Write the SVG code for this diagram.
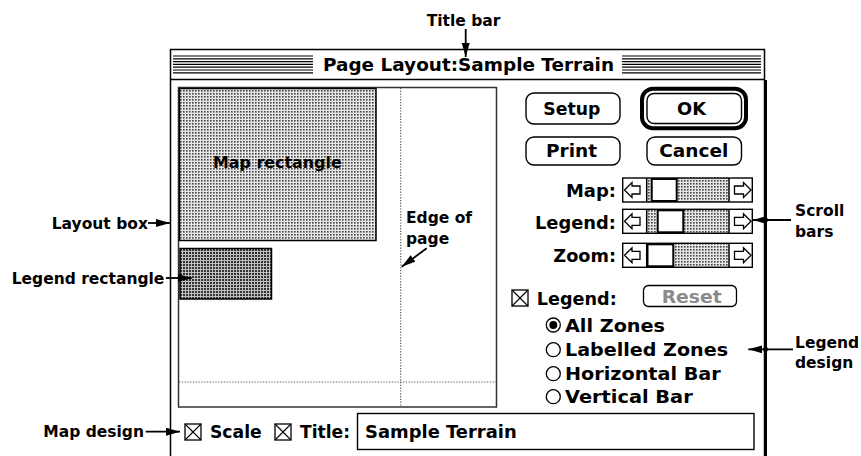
<svg xmlns="http://www.w3.org/2000/svg" width="861" height="456" viewBox="0 0 861 456">
<style>
.ann{font-family:"DejaVu Sans",sans-serif;font-weight:bold;font-size:15.5px;fill:#000}
.ui{font-family:"DejaVu Sans",sans-serif;font-weight:bold;font-size:17px;fill:#000}
.ln{stroke:#000;stroke-width:1.5;fill:none}
.btn{fill:#fff;stroke:#000;stroke-width:1.4}
.dot{stroke:#555;stroke-width:1.2;stroke-dasharray:1.2 1.6;fill:none}
.arr{stroke:#000;stroke-width:1.8;fill:none;marker-end:url(#ah)}
</style>
<defs>
<marker id="ah" markerUnits="userSpaceOnUse" markerWidth="16" markerHeight="10" refX="14" refY="4" orient="auto">
<path d="M0,0 L14,4 L0,8 z" fill="#000"/>
</marker>
<pattern id="lt" width="3" height="3" patternUnits="userSpaceOnUse">
<rect width="3" height="3" fill="#e6e6e6"/><rect width="1.6" height="1.6" fill="#444"/>
</pattern>
<pattern id="dk" width="3" height="3" patternUnits="userSpaceOnUse">
<rect width="3" height="3" fill="#c0c0c0"/><rect width="2" height="2" fill="#333"/>
</pattern>
</defs>
<rect width="861" height="456" fill="#fff"/>

<g id="window">
<rect x="170.5" y="49.5" width="594" height="420" fill="#fff" stroke="#000" stroke-width="1.5"/>
<line x1="765.5" y1="80" x2="765.5" y2="456" stroke="#000" stroke-width="3"/>
<line x1="170" y1="79.5" x2="765" y2="79.5" stroke="#000" stroke-width="1.5"/>
</g>

<g id="title-bar">
<g stroke="#000" stroke-width="1.2">
<line x1="173" y1="56" x2="313" y2="56"/><line x1="173" y1="58.8" x2="313" y2="58.8"/>
<line x1="173" y1="61.6" x2="313" y2="61.6"/><line x1="173" y1="64.4" x2="313" y2="64.4"/>
<line x1="173" y1="67.2" x2="313" y2="67.2"/><line x1="173" y1="70" x2="313" y2="70"/>
<line x1="173" y1="72.8" x2="313" y2="72.8"/>
<line x1="622" y1="56" x2="761" y2="56"/><line x1="622" y1="58.8" x2="761" y2="58.8"/>
<line x1="622" y1="61.6" x2="761" y2="61.6"/><line x1="622" y1="64.4" x2="761" y2="64.4"/>
<line x1="622" y1="67.2" x2="761" y2="67.2"/><line x1="622" y1="70" x2="761" y2="70"/>
<line x1="622" y1="72.8" x2="761" y2="72.8"/>
</g>
<text class="ui" x="323" y="71" font-size="17.5" textLength="291" lengthAdjust="spacingAndGlyphs">Page Layout:Sample Terrain</text>
</g>

<g id="layout-box">
<rect x="178.5" y="87.5" width="318" height="319.5" fill="#fff" stroke="#333" stroke-width="1.5"/>
<line class="dot" x1="400.7" y1="88" x2="400.7" y2="406"/>
<line class="dot" x1="179" y1="382" x2="496" y2="382"/>
</g>

<g id="map-rectangle">
<rect x="179.5" y="88.5" width="196.5" height="152" fill="url(#lt)" stroke="#000" stroke-width="1.5"/>
<text class="ann" x="213" y="168" textLength="128.7" lengthAdjust="spacingAndGlyphs">Map rectangle</text>
</g>

<g id="legend-rectangle">
<rect x="180" y="248.5" width="91.5" height="50.5" fill="url(#dk)" stroke="#000" stroke-width="1.5"/>
</g>

<g id="edge-of-page-label">
<text class="ann" x="406" y="223">Edge of</text>
<text class="ann" x="406" y="244">page</text>
</g>

<g id="btn-setup">
<rect class="btn" x="526" y="93" width="94" height="31" rx="8"/>
<text class="ui" x="543.3" y="115" textLength="57" lengthAdjust="spacingAndGlyphs">Setup</text>
</g>
<g id="btn-ok">
<rect x="642" y="88.7" width="104" height="39.5" rx="11" fill="#fff" stroke="#000" stroke-width="4"/>
<rect class="btn" x="647" y="93.5" width="94.5" height="30" rx="7"/>
<text class="ui" x="677" y="115" textLength="29" lengthAdjust="spacingAndGlyphs">OK</text>
</g>
<g id="btn-print">
<rect class="btn" x="526" y="137" width="94" height="28" rx="8"/>
<text class="ui" x="546" y="157.3" textLength="51" lengthAdjust="spacingAndGlyphs">Print</text>
</g>
<g id="btn-cancel">
<rect class="btn" x="647" y="137" width="94.5" height="28" rx="8"/>
<text class="ui" x="659.3" y="157.3" textLength="69" lengthAdjust="spacingAndGlyphs">Cancel</text>
</g>

<g id="scroll-map">
<text class="ui" x="566" y="196.5" textLength="50" lengthAdjust="spacingAndGlyphs">Map:</text>
<rect x="646.7" y="178" width="82.3" height="24" fill="url(#lt)"/>
<rect x="622.7" y="178" width="129.6" height="24" fill="none" stroke="#000" stroke-width="1.4"/>
<line class="ln" x1="646.7" y1="178" x2="646.7" y2="202"/><line class="ln" x1="729" y1="178" x2="729" y2="202"/>
<rect x="651.7" y="179" width="25" height="22" fill="#fff" stroke="#000" stroke-width="2"/>
<polygon points="624.5,190 632,182.5 632,186 640,186 640,194 632,194 632,197.5" fill="#fff" stroke="#000" stroke-width="1.3"/>
<polygon points="751,190 743.5,182.5 743.5,186 734.5,186 734.5,194 743.5,194 743.5,197.5" fill="#fff" stroke="#000" stroke-width="1.3"/>
</g>
<g id="scroll-legend">
<text class="ui" x="535" y="228.5" textLength="81" lengthAdjust="spacingAndGlyphs">Legend:</text>
<rect x="646.7" y="209.3" width="82.3" height="24" fill="url(#lt)"/>
<rect x="622.7" y="209.3" width="129.6" height="24" fill="none" stroke="#000" stroke-width="1.4"/>
<line class="ln" x1="646.7" y1="209.3" x2="646.7" y2="233.3"/><line class="ln" x1="729" y1="209.3" x2="729" y2="233.3"/>
<rect x="657.7" y="210.3" width="25.6" height="22" fill="#fff" stroke="#000" stroke-width="2"/>
<polygon points="624.5,221.3 632,213.8 632,217.3 640,217.3 640,225.3 632,225.3 632,228.8" fill="#fff" stroke="#000" stroke-width="1.3"/>
<polygon points="751,221.3 743.5,213.8 743.5,217.3 734.5,217.3 734.5,225.3 743.5,225.3 743.5,228.8" fill="#fff" stroke="#000" stroke-width="1.3"/>
</g>
<g id="scroll-zoom">
<text class="ui" x="553.3" y="261.5" textLength="62.7" lengthAdjust="spacingAndGlyphs">Zoom:</text>
<rect x="646.7" y="243.3" width="82.3" height="24" fill="url(#lt)"/>
<rect x="622.7" y="243.3" width="129.6" height="24" fill="none" stroke="#000" stroke-width="1.4"/>
<line class="ln" x1="646.7" y1="243.3" x2="646.7" y2="267.3"/><line class="ln" x1="729" y1="243.3" x2="729" y2="267.3"/>
<rect x="647.5" y="244.3" width="25.8" height="22" fill="#fff" stroke="#000" stroke-width="2"/>
<polygon points="624.5,255.3 632,247.8 632,251.3 640,251.3 640,259.3 632,259.3 632,262.8" fill="#fff" stroke="#000" stroke-width="1.3"/>
<polygon points="751,255.3 743.5,247.8 743.5,251.3 734.5,251.3 734.5,259.3 743.5,259.3 743.5,262.8" fill="#fff" stroke="#000" stroke-width="1.3"/>
</g>

<g id="legend-controls">
<rect x="512" y="290" width="16" height="16" fill="#fff" stroke="#000" stroke-width="1.3"/>
<path d="M512,290 L528,306 M528,290 L512,306" stroke="#000" stroke-width="1.1"/>
<text class="ui" x="536.7" y="304.5" textLength="80" lengthAdjust="spacingAndGlyphs">Legend:</text>
<rect x="643.5" y="285.5" width="93" height="21" rx="5" fill="#fff" stroke="#000" stroke-width="1.3"/>
<text class="ui" x="661.7" y="302.5" style="fill:#8a8a8a" textLength="60" lengthAdjust="spacingAndGlyphs">Reset</text>
<circle cx="553.3" cy="325" r="7" fill="#fff" stroke="#000" stroke-width="1.3"/>
<circle cx="553.3" cy="325" r="4" fill="#000"/>
<text class="ui" x="565" y="331.5" textLength="100" lengthAdjust="spacingAndGlyphs">All Zones</text>
<circle cx="553.3" cy="349.7" r="7" fill="#fff" stroke="#000" stroke-width="1.3"/>
<text class="ui" x="565" y="355.8" textLength="163" lengthAdjust="spacingAndGlyphs">Labelled Zones</text>
<circle cx="553.3" cy="373.7" r="7" fill="#fff" stroke="#000" stroke-width="1.3"/>
<text class="ui" x="565" y="379.7" textLength="155.7" lengthAdjust="spacingAndGlyphs">Horizontal Bar</text>
<circle cx="553.3" cy="396.7" r="7" fill="#fff" stroke="#000" stroke-width="1.3"/>
<text class="ui" x="565" y="403" textLength="127.7" lengthAdjust="spacingAndGlyphs">Vertical Bar</text>
</g>

<g id="map-design-controls">
<rect x="185" y="424" width="16" height="16" fill="#fff" stroke="#000" stroke-width="1.3"/>
<path d="M185,424 L201,440 M201,424 L185,440" stroke="#000" stroke-width="1.1"/>
<text class="ui" x="210" y="437.5" textLength="51.7" lengthAdjust="spacingAndGlyphs">Scale</text>
<rect x="275" y="424" width="16" height="16" fill="#fff" stroke="#000" stroke-width="1.3"/>
<path d="M275,424 L291,440 M291,424 L275,440" stroke="#000" stroke-width="1.1"/>
<text class="ui" x="300" y="437.5" textLength="50" lengthAdjust="spacingAndGlyphs">Title:</text>
<rect x="357.5" y="413.5" width="396.5" height="36" fill="#fff" stroke="#000" stroke-width="1.4"/>
<text class="ui" x="365" y="437.5" textLength="151.7" lengthAdjust="spacingAndGlyphs">Sample Terrain</text>
</g>

<g id="annotation-labels">
<text class="ann" x="426.7" y="26">Title bar</text>
<text class="ann" x="51.7" y="229.3">Layout box</text>
<text class="ann" x="11.7" y="284.3">Legend rectangle</text>
<text class="ann" x="43.3" y="437">Map design</text>
<text class="ann" x="795" y="216">Scroll</text>
<text class="ann" x="795" y="237">bars</text>
<text class="ann" x="795" y="348.3">Legend</text>
<text class="ann" x="795" y="368">design</text>
</g>

<g id="connectors">
<line class="arr" x1="465.7" y1="29" x2="465.7" y2="57"/>
<line class="arr" x1="148" y1="223" x2="170" y2="223"/>
<line class="arr" x1="166" y1="278" x2="191.7" y2="278"/>
<line class="arr" x1="145.7" y1="431.7" x2="180" y2="431.7"/>
<line class="arr" x1="426.7" y1="248.3" x2="401.7" y2="266.7"/>
<line class="arr" x1="791" y1="220" x2="753" y2="220"/>
<line class="arr" x1="793" y1="349.3" x2="748.3" y2="349.3"/>
<circle cx="765.5" cy="220" r="2.5" fill="#000"/>
<circle cx="765.5" cy="349.3" r="2.5" fill="#000"/>
</g>
</svg>
